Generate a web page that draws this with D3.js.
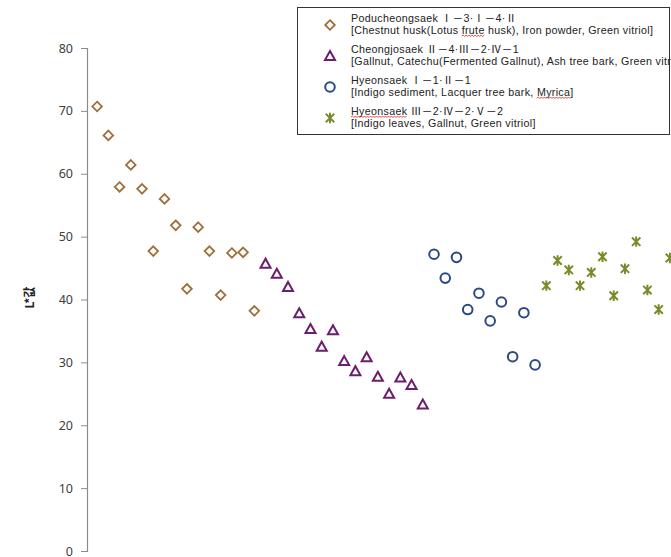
<!DOCTYPE html>
<html>
<head>
<meta charset="utf-8">
<script src="https://cdn.jsdelivr.net/npm/d3@7"></script>
<style>
  body { margin: 0; background: #fff; }
  svg { display: block; font-family: "Noto Sans CJK KR", "Noto Sans", sans-serif; }
</style>
</head>
<body>
<div id="chart"></div>
<script>
// L* values, in plotting order
var poducheongsaek = [70.7, 66.1, 57.9, 61.4, 57.6, 47.7, 56.0, 51.8, 41.7, 51.5, 47.7, 40.7, 47.4, 47.5, 38.2];
var cheongjosaek = [45.7, 44.1, 42.0, 37.8, 35.3, 32.5, 35.1, 30.2, 28.6, 30.8, 27.7, 25.0, 27.6, 26.4, 23.3];
var hyeonsaek1 = [47.2, 43.4, 46.7, 38.4, 41.0, 36.6, 39.6, 30.9, 37.9, 29.6];
var hyeonsaek2 = [42.2, 46.2, 44.7, 42.2, 44.3, 46.8, 40.6, 44.9, 49.2, 41.5, 38.4, 46.6];

var yTicks = [0, 10, 20, 30, 40, 50, 60, 70, 80];
var yLabel = 'L*값';

var legendNames = [
  ['Poducheongsaek Ⅰ－3·Ⅰ－4·Ⅱ', '[Chestnut husk(Lotus frute husk), Iron powder, Green vitriol]'],
  ['Cheongjosaek Ⅱ－4·Ⅲ－2·Ⅳ－1', '[Gallnut, Catechu(Fermented Gallnut), Ash tree bark, Green vitriol]'],
  ['Hyeonsaek Ⅰ－1·Ⅱ－1', '[Indigo sediment, Lacquer tree bark, Myrica]'],
  ['Hyeonsaek Ⅲ－2·Ⅳ－2·Ⅴ－2', '[Indigo leaves, Gallnut, Green vitriol]']
];
// words the spell checker had underlined in the original
var flagged = ['frute', 'Myrica', 'Hyeonsaek Ⅲ'];

var width = 671, height = 557;
var layout = { left: 87, top: 48, bottom: 551, right: 671 };

var svg = d3.select('#chart').append('svg')
  .attr('width', width)
  .attr('height', height);

// build series; points sit one category step apart, one after another
var seriesList = [
  { values: poducheongsaek, shape: 'diamond', color: '#9e6f3a' },
  { values: cheongjosaek, shape: 'triangle', color: '#6b1d6e' },
  { values: hyeonsaek1, shape: 'circle', color: '#2c4a82' },
  { values: hyeonsaek2, shape: 'star', color: '#7b8b2a' }
];
var idx = 0;
seriesList.forEach(function (s) {
  s.points = s.values.map(function (v) {
    idx += 1;
    return { x: idx, y: v };
  });
});

var x = d3.scaleLinear().domain([0.1, 52.1]).range([layout.left, layout.right]);
var y = d3.scaleLinear().domain([0, 80]).range([layout.bottom, layout.top]);

// y axis
var yAxis = svg.append('g')
  .attr('transform', 'translate(' + layout.left + ',0)')
  .call(d3.axisLeft(y).tickValues(yTicks).tickSize(6).tickPadding(8));
yAxis.select('.domain').attr('stroke', '#8c8c8c').attr('stroke-width', 1.2);
yAxis.selectAll('.tick line').attr('stroke', '#8c8c8c');
yAxis.selectAll('.tick text')
  .attr('fill', '#404040')
  .style('font-size', '12.5px')
  .style('font-family', '"Noto Sans", sans-serif');

svg.append('text')
  .attr('transform', 'translate(31,' + ((layout.top + layout.bottom) / 2 - 2) + ') rotate(-90)')
  .attr('text-anchor', 'middle')
  .attr('dominant-baseline', 'middle')
  .style('font-size', '12px')
  .style('font-weight', 'bold')
  .attr('fill', '#222')
  .text(yLabel);

// marker drawing
function drawMarker(g, shape, color) {
  if (shape === 'diamond') {
    g.append('path').attr('d', 'M0,-4.8L4.8,0L0,4.8L-4.8,0Z')
      .attr('fill', 'none').attr('stroke', color).attr('stroke-width', 1.8);
  } else if (shape === 'triangle') {
    g.append('path').attr('d', 'M0,-5L5,4L-5,4Z')
      .attr('fill', 'none').attr('stroke', color).attr('stroke-width', 2);
  } else if (shape === 'circle') {
    g.append('circle').attr('r', 4.8)
      .attr('fill', 'none').attr('stroke', color).attr('stroke-width', 2);
  } else {
    g.append('path').attr('d', 'M-4.2,-4.2L4.2,4.2M-4.2,4.2L4.2,-4.2M0,-5.2L0,5.2')
      .attr('fill', 'none').attr('stroke', color).attr('stroke-width', 2);
  }
}

var plot = svg.append('g');
seriesList.forEach(function (s) {
  plot.selectAll(null)
    .data(s.points)
    .enter().append('g')
    .attr('transform', function (d) { return 'translate(' + x(d.x) + ',' + y(d.y) + ')'; })
    .each(function () { drawMarker(d3.select(this), s.shape, s.color); });
});

// legend
var legend = svg.append('g');
legend.append('rect')
  .attr('x', 297.5).attr('y', 7.5)
  .attr('width', 372).attr('height', 127)
  .attr('fill', '#fff')
  .attr('stroke', '#333').attr('stroke-width', 1);

// red squiggle under a stretch of text
function squiggle(x0, x1, yy) {
  var d = 'M' + x0 + ',' + yy;
  var up = true;
  for (var xx = x0 + 1.5; xx <= x1; xx += 1.5) {
    d += 'L' + xx + ',' + (yy + (up ? -1 : 0.5));
    up = !up;
  }
  legend.append('path').attr('d', d)
    .attr('fill', 'none').attr('stroke', '#e02020').attr('stroke-width', 0.8);
}

legendNames.forEach(function (lines, i) {
  var cy = 25 + i * 31;
  var g = legend.append('g').attr('transform', 'translate(330,' + cy + ')');
  drawMarker(g, seriesList[i].shape, seriesList[i].color);
  lines.forEach(function (str, j) {
    var ty = cy - 3.5 + j * 12;
    var t = legend.append('text')
      .attr('x', 351)
      .attr('y', ty)
      .style('font-size', '10.7px')
      .style('letter-spacing', '0.32px')
      .style('font-family', '"Liberation Sans", "Noto Sans CJK KR", sans-serif')
      .attr('fill', '#222')
      .text(str);
    flagged.forEach(function (w) {
      var k = str.indexOf(w);
      if (k < 0) return;
      var word = w.split(' ')[0];
      var node = t.node();
      var x0 = node.getStartPositionOfChar(k).x;
      var x1 = node.getEndPositionOfChar(k + word.length - 1).x;
      squiggle(x0, x1, ty + 2.5);
    });
  });
});
</script>
</body>
</html>
